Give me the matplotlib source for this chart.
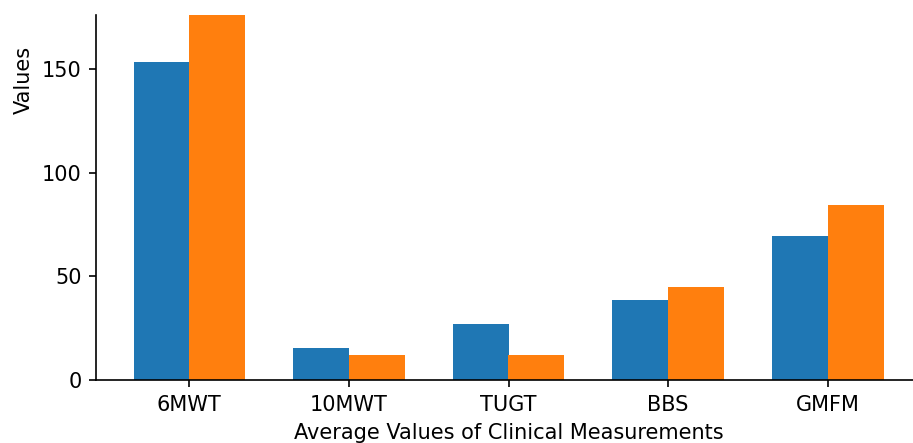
import matplotlib
matplotlib.use("Agg")
import matplotlib.pyplot as plt
import numpy as np

categories = ["6MWT", "10MWT", "TUGT", "BBS", "GMFM"]
series_a = [153.6, 15.6, 27.0, 38.6, 69.6]
series_b = [190.0, 12.1, 12.0, 45.0, 84.5]

DPI = 150
fig = plt.figure(figsize=(913 / DPI, 443 / DPI), dpi=DPI)
ax = fig.add_axes([96 / 913, 63 / 443, 825 / 913, 365 / 443])

x = np.arange(len(categories))
w = 0.35
ax.bar(x - w / 2, series_a, w, color="#1f77b4")
ax.bar(x + w / 2, series_b, w, color="#ff7f0e")
ax.set_xticks(x)
ax.set_xticklabels(categories)
ax.set_ylim(0, 176.3)
ax.set_yticks([0, 50, 100, 150])
ax.set_xlabel("Average Values of Clinical Measurements")
ax.set_ylabel("Values", y=0.822)
ax.spines["top"].set_visible(False)
ax.spines["right"].set_visible(False)

fig.savefig("out.png", dpi=DPI)
